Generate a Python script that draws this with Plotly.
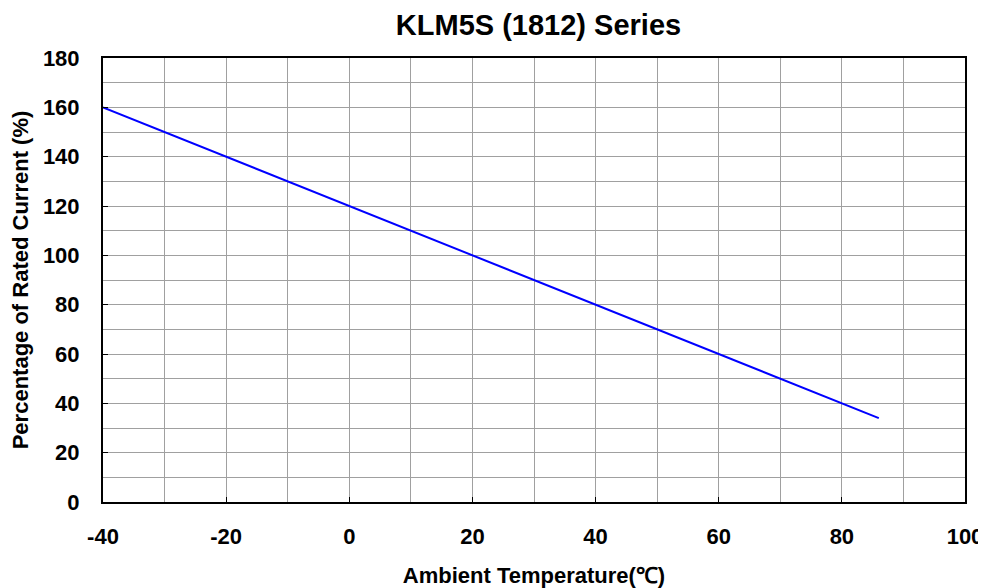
import plotly.graph_objects as go

temperature = [-40, 86]
percent_rated = [160, 34]

x_ticks = [-40, -20, 0, 20, 40, 60, 80, 100]
x_tick_labels = ["-40", "-20", "0", "20", "40", "60", "80", "100"]
y_ticks = [0, 20, 40, 60, 80, 100, 120, 140, 160, 180]

font_family = "Liberation Sans, Arial, sans-serif"

fig = go.Figure()
fig.add_trace(go.Scatter(
    x=temperature, y=percent_rated, mode="lines",
    line=dict(color="#0000FF", width=2), showlegend=False,
))

W, H = 978, 580
fig.update_layout(
    width=W, height=H,
    margin=dict(l=95, r=21, t=50, b=86, autoexpand=False),
    paper_bgcolor="white", plot_bgcolor="white",
    title=dict(text="KLM5S (1812) Series", x=530.5 / W, xanchor="center", y=1 - 17 / H, yanchor="middle",
               font=dict(family=font_family, size=29, color="black", weight="bold")),
    font=dict(family=font_family, color="black"),
)
axis_common = dict(
    showline=True, linecolor="black", linewidth=2, mirror=True,
    showgrid=True, gridcolor="#A0A0A0", gridwidth=1,
    ticks="inside", ticklen=5, tickcolor="black", tickwidth=1,
    tickfont=dict(family=font_family, size=22, color="black", weight="bold"),
    ticklabeloverflow="allow",
    zeroline=False,
    minor=dict(dtick=10, showgrid=True, gridcolor="#A0A0A0", gridwidth=1, ticks=""),
)
fig.update_xaxes(
    range=[-40, 100], tickvals=x_ticks, ticktext=x_tick_labels, ticklabelstandoff=14,
    title=dict(text="Ambient Temperature(℃)", standoff=20,
               font=dict(family=font_family, size=22, color="black", weight="bold")),
    **axis_common,
)
fig.update_yaxes(
    range=[0, 180], tickvals=y_ticks, ticklabelstandoff=17,
    title=dict(text="Percentage of Rated Current (%)", standoff=14,
               font=dict(family=font_family, size=22, color="black", weight="bold")),
    **axis_common,
)
fig.write_html("out.html")
